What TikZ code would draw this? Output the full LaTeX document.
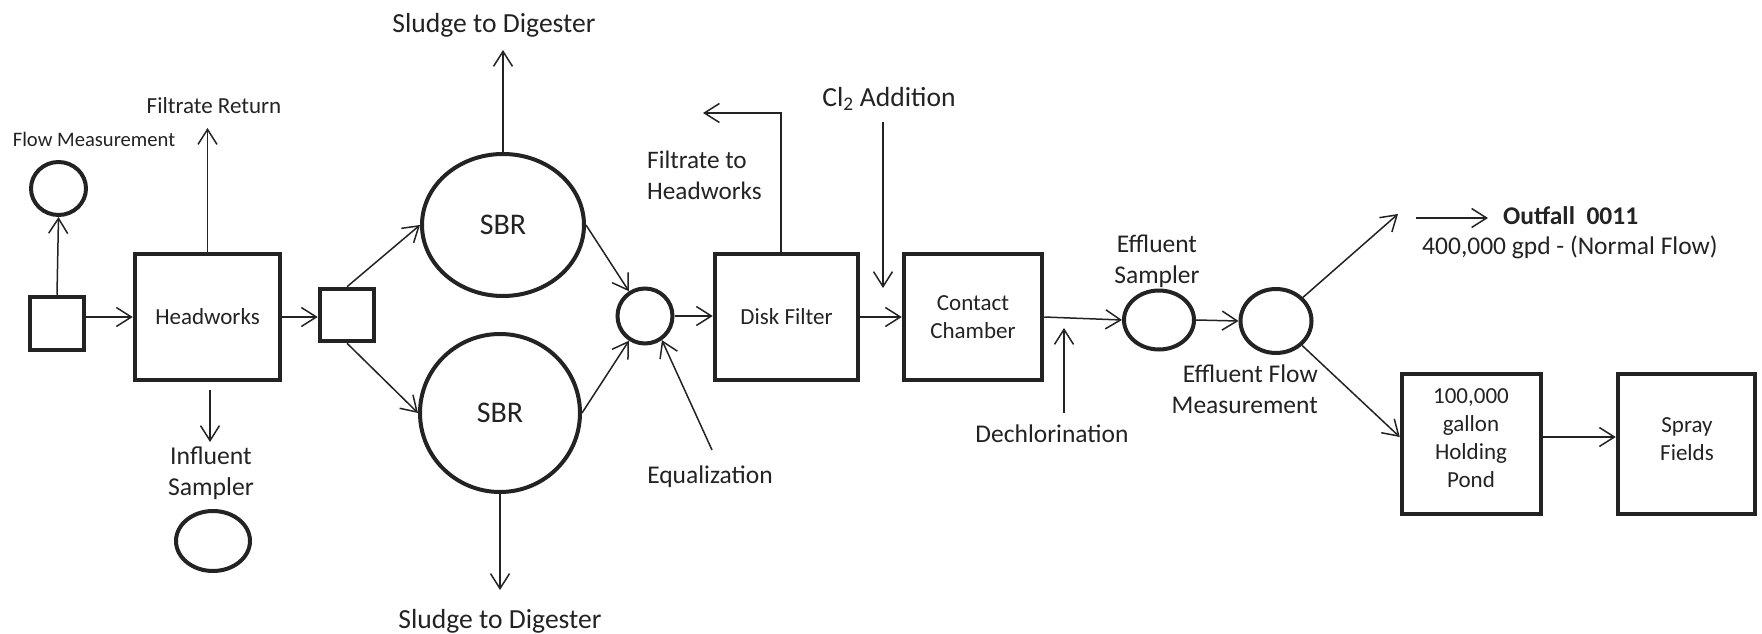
\documentclass[tikz,border=0pt]{standalone}
\usepackage{fontspec}
\setmainfont{Carlito}
\usetikzlibrary{arrows.meta,shapes.geometric,calc}
\definecolor{ink}{RGB}{35,35,35}
\begin{document}
\begin{tikzpicture}[x=1pt,y=-1pt,
  every node/.style={text=ink},
  conn/.style={draw=ink,line width=1.5pt,-{Straight Barb[length=15pt,width=19pt,line width=1.5pt]}},
  box/.style={draw=ink,line width=4.5pt,rectangle,inner sep=0pt},
  tank/.style={draw=ink,line width=4pt,ellipse,inner sep=0pt},
  lbl/.style={font=\fontsize{25.5}{31}\selectfont,align=center,inner sep=0pt},
  boxtxt/.style={font=\fontsize{23}{28}\selectfont,align=center},
  big/.style={font=\fontsize{27.6}{33}\selectfont,inner sep=0pt}]
\useasboundingbox[fill=white] (0,0) rectangle (1762,634);

% inlet and headworks
\node[box,minimum width=54pt,minimum height=53pt] (inlet) at (57,323.5) {};
\node[tank,minimum width=55pt,minimum height=53pt] (flowm) at (58.5,188.5) {};
\node[lbl,font=\fontsize{20.6}{24}\selectfont] (flowmt) at (94,139) {Flow Measurement};
\node[box,boxtxt,minimum width=145pt,minimum height=126pt] (hw) at (207.5,317) {Headworks};
\node[lbl,font=\fontsize{23}{28}\selectfont] (filtret) at (214,106) {Filtrate Return};
\coordinate (filtretend) at (207.5,128);
\draw[conn] (hw.north) -- (filtretend);
\draw[conn] (inlet.north) -- (flowm.south);
\draw[conn] (inlet.east |- hw.west) -- (hw.west);

% influent sampler
\coordinate (infA) at (210,390);
\coordinate (infB) at (210,442);
\draw[conn] (infA) -- (infB);
\node[lbl,font=\fontsize{25.7}{31}\selectfont] (inft) at (211,473) {Influent\\Sampler};
\node[tank,minimum width=74pt,minimum height=60pt] (infs) at (213,541) {};

% splitter and SBRs
\node[box,minimum width=54pt,minimum height=52pt] (split) at (347,315) {};
\draw[conn] (hw.east) -- (split.west |- hw.east);
\node[tank,minimum width=162pt,minimum height=142pt,font=\fontsize{30}{36}\selectfont] (sbr1) at (503,225) {SBR};
\node[tank,minimum width=160pt,minimum height=158pt,font=\fontsize{30}{36}\selectfont] (sbr2) at (500,413) {SBR};
\draw[conn] (split.north) -- (sbr1.west);
\draw[conn] (split.south) -- (sbr2.west);
\node[big] (sl1) at (494,25) {Sludge to Digester};
\coordinate (sl1e) at (503,50);
\draw[conn] (sbr1.north) -- (sl1e);
\node[big] (sl2) at (500,621) {Sludge to Digester};
\coordinate (sl2e) at (500,590);
\draw[conn] (sbr2.south) -- (sl2e);

% equalization
\node[tank,minimum width=55pt,minimum height=55pt] (eq) at (645,316) {};
\draw[conn] (sbr1.east) -- (eq);
\draw[conn] (sbr2.east) -- (eq);
\coordinate (eqp) at (712,450);
\draw[conn] (eqp) -- (eq.-55);
\node[lbl] (eqt) at (710,477) {Equalization};

% disk filter
\node[box,boxtxt,minimum width=143pt,minimum height=126pt] (df) at (786.5,317) {Disk Filter};
\draw[conn] (eq.east) -- (df.west |- eq.east);
\coordinate (fth) at (703,113);
\draw[conn] ([xshift=-5.5pt]df.north) |- (fth);
\node[lbl,font=\fontsize{25.2}{31}\selectfont,align=left,anchor=west] (ftt) at (647,175) {Filtrate to\\Headworks};

% chlorine and contact chamber
\node[big] (clt) at (889,99) {Cl\textsubscript{2} Addition};
\coordinate (clA) at (883,122);
\coordinate (clB) at (883,288);
\draw[conn] (clA) -- (clB);
\node[box,boxtxt,minimum width=138pt,minimum height=126pt] (cc) at (973,317) {Contact\\Chamber};
\draw[conn] (df.east) -- (cc.west);

% effluent sampler
\node[tank,minimum width=70pt,minimum height=59pt] (es) at (1159,320) {};
\draw[conn] (cc.east) -- (es.west);
\coordinate (dcA) at (1064,413);
\coordinate (dcB) at (1064,328);
\draw[conn] (dcA) -- (dcB);
\node[lbl] (dct) at (1052,434) {Dechlorination};
\node[lbl] (est) at (1157,261) {Effluent\\Sampler};

% effluent flow measurement
\node[tank,minimum width=71pt,minimum height=64pt] (efm) at (1276,321) {};
\draw[conn] (es.east) -- (efm.west);
\node[lbl,align=right,anchor=east] (efmt) at (1318,389) {Effluent Flow\\Measurement};

% outfall
\coordinate (o1) at (1398,214);
\draw[conn] (efm) -- (o1);
\coordinate (o2a) at (1416,218);
\coordinate (o2b) at (1488,218);
\draw[conn] (o2a) -- (o2b);
\node[lbl,anchor=west,font=\fontsize{25.5}{31}\selectfont\bfseries] (oft) at (1503,216) {Outfall\ \ 0011};
\node[lbl,anchor=west] (nft) at (1422,247) {400,000 gpd - (Normal Flow)};

% holding pond and spray fields
\node[box,minimum width=139pt,minimum height=140pt] (pond) at (1471.5,444) {};
\node[boxtxt,inner sep=0pt] (pondt) at (1471,438) {100,000\\gallon\\Holding\\Pond};
\draw[conn] (efm) -- ([yshift=7pt]pond.west);
\node[box,minimum width=137pt,minimum height=140pt] (spray) at (1686.5,444) {};
\node[boxtxt,inner sep=0pt] (sprayt) at (1687,439) {Spray\\Fields};
\draw[conn] ([yshift=7pt]pond.east) -- ([yshift=7pt]spray.west);
\end{tikzpicture}
\end{document}
